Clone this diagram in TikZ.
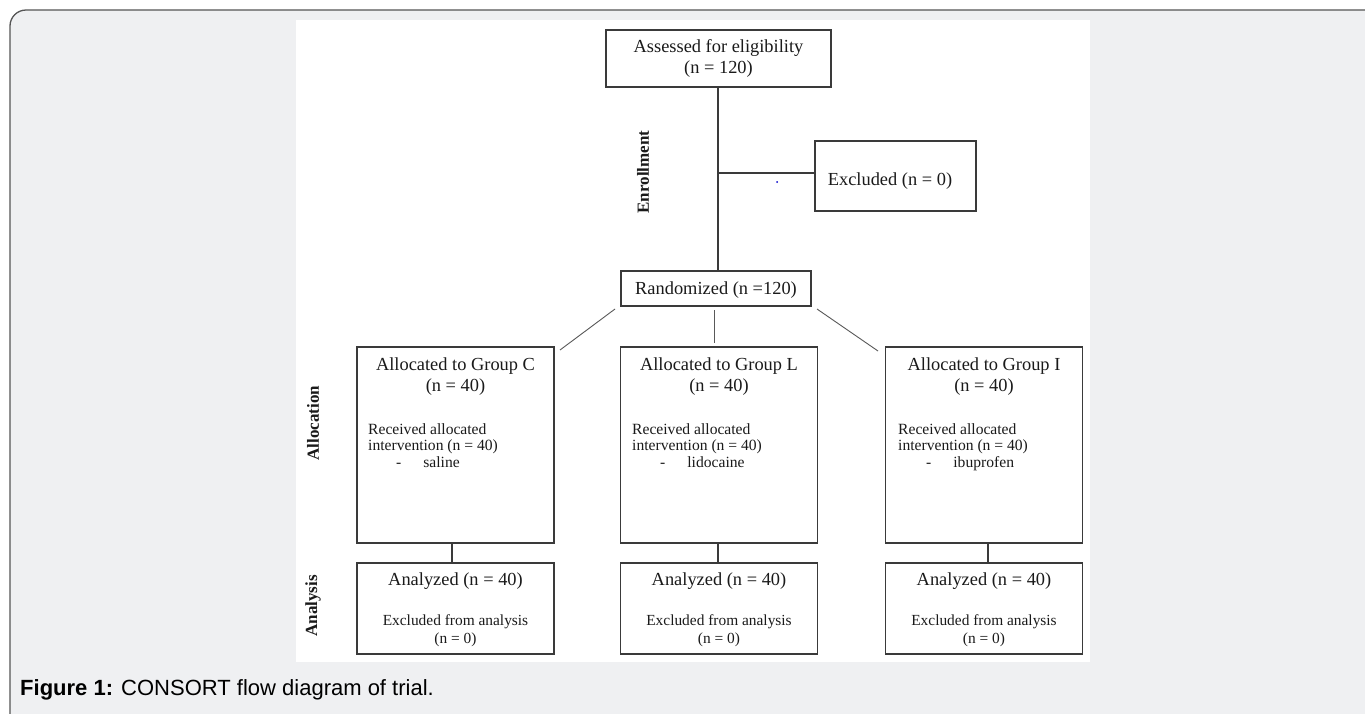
\documentclass[tikz,border=0pt]{standalone}
\usepackage{fontspec}
\setmainfont{Liberation Serif}
\newfontfamily\capfont{Liberation Sans}
\definecolor{panelgray}{HTML}{EFF0F2}
\definecolor{framegray}{HTML}{555555}
\definecolor{boxline}{HTML}{3A3A3A}
\definecolor{txt}{HTML}{1A1A1A}
\begin{document}
\begin{tikzpicture}[x=1pt,y=-1pt,
  box/.style={draw=boxline, line width=1.1pt, fill=white, inner sep=0pt},
  conn/.style={draw=boxline, line width=1.1pt},
  big/.style={font=\fontsize{18.4}{21}\selectfont, text=txt, inner sep=0pt, align=center},
  small/.style={font=\fontsize{15.6}{17.5}\selectfont, text=txt, inner sep=0pt, anchor=west},
  side/.style={font=\fontsize{17}{19}\selectfont\bfseries, text=txt, rotate=90, inner sep=0pt}]
\useasboundingbox (0,0) rectangle (1365,713);
\begin{scope}
\clip (0,0) rectangle (1365,713);
\draw[fill=panelgray, draw=framegray, line width=1.3pt, rounded corners=16pt] (10,10) rectangle (1400,750);
\end{scope}
\fill[white] (296,20) rectangle (1090,662);

% enrollment
\node[box, minimum width=225pt, minimum height=57pt] (assess) at (718.5,58.5) {};
\node[big] (assessT) at (718.5,58.5) {Assessed for eligibility\\(n = 120)};
\node[box, minimum width=161pt, minimum height=70pt] (excl) at (895.5,176) {};
\node[big] (exclT) at (890,181) {Excluded (n = 0)};
\node[box, minimum width=190pt, minimum height=35pt] (rand) at (716,288.5) {};
\node[big] (randT) at (716,290) {Randomized (n =120)};
\coordinate (split) at (718,173);
\draw[conn] (718,87) coordinate (a0) -- (718,271) coordinate (a1);
\draw[conn] (split) -- (excl.west |- split);
\fill[blue!80!black] (777,182) circle (1pt);
\node[side] (enrol) at (643,172) {Enrollment};

% allocation
\foreach \n/\cx/\lx in {C/455.5/452, L/719/718, I/984/988}{
  \node[box, minimum width=197pt, minimum height=196pt] (grp\n) at (\cx,445) {};
  \node[big] (grpT\n) at (\cx,377) {Allocated to Group \n\\(n = 40)};
  \node[box, minimum width=197pt, minimum height=91pt] (ana\n) at (\cx,608.5) {};
  \node[big] (anaT\n) at (\cx,581) {Analyzed (n = 40)};
  \node[font=\fontsize{15.4}{18}\selectfont, text=txt, inner sep=0pt, align=center] (anaX\n) at (\cx,631) {Excluded from analysis\\(n = 0)};
  \draw[conn] (grp\n.south -| \lx,0) -- (ana\n.north -| \lx,0);
}
\node[small] (recC) at (368,447) {\begin{tabular}{@{}l@{}}Received allocated\\[-1pt] intervention (n = 40)\\[-1pt] \hspace{28pt}-\hspace{22pt}saline\end{tabular}};
\node[small] (recL) at (632,447) {\begin{tabular}{@{}l@{}}Received allocated\\[-1pt] intervention (n = 40)\\[-1pt] \hspace{28pt}-\hspace{22pt}lidocaine\end{tabular}};
\node[small] (recI) at (898,447) {\begin{tabular}{@{}l@{}}Received allocated\\[-1pt] intervention (n = 40)\\[-1pt] \hspace{28pt}-\hspace{22pt}ibuprofen\end{tabular}};

\coordinate (dl1) at (615,309); \coordinate (dl2) at (560,350);
\coordinate (dm1) at (714,310); \coordinate (dm2) at (714,343);
\coordinate (dr1) at (817,309); \coordinate (dr2) at (878,351);
\draw[conn, line width=0.9pt, draw=black!65] (dl1) -- (dl2);
\draw[conn, line width=0.9pt, draw=black!65] (dm1) -- (dm2);
\draw[conn, line width=0.9pt, draw=black!65] (dr1) -- (dr2);

\node[side] (alloc) at (313,423) {Allocation};
\node[side] (anal) at (313,606) {Analysis};

\node[anchor=west, inner sep=0pt, font=\capfont\fontsize{22}{26}\selectfont] (cap) at (20,690) {\textbf{Figure 1:} CONSORT flow diagram of trial.};
\end{tikzpicture}
\end{document}
